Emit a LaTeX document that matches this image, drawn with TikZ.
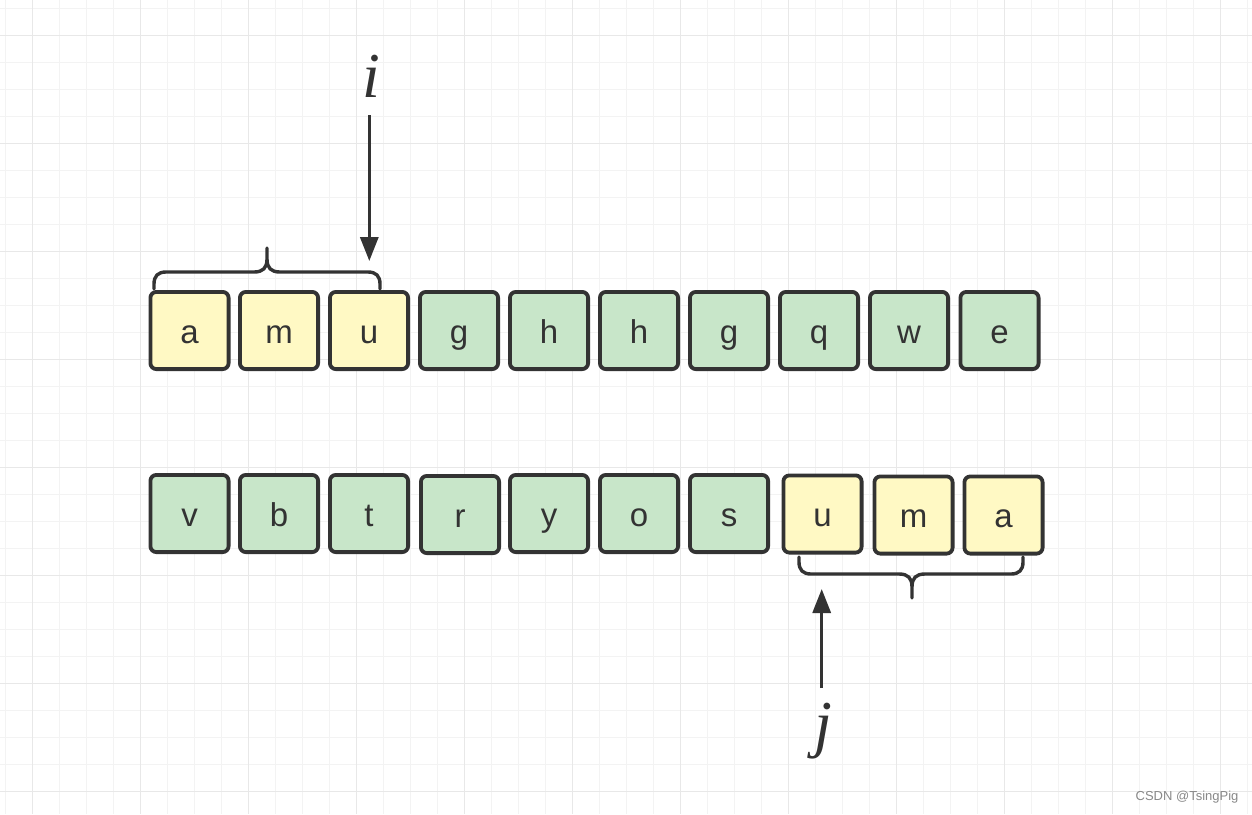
\documentclass[tikz,border=0pt]{standalone}
\usepackage{fontspec}
\setmainfont{Liberation Sans}
\newfontfamily\ptrfont{Liberation Serif}
\usetikzlibrary{arrows.meta}
\definecolor{gridminor}{HTML}{F3F3F3}
\definecolor{gridmajor}{HTML}{E8E8E8}
\definecolor{ink}{HTML}{333333}
\definecolor{yel}{HTML}{FFF9C4}
\definecolor{grn}{HTML}{C8E6C9}
\definecolor{wm}{HTML}{888888}
\begin{document}
\begin{tikzpicture}[x=1pt,y=-1pt,
  cell/.style={draw=ink, line width=3.8pt, rounded corners=6pt, minimum width=78.2pt, minimum height=77.2pt, inner sep=0pt, text=ink, font=\fontsize{33}{33}\selectfont, text height=28pt, text depth=3pt},
  ycell/.style={cell, fill=yel},
  gcell/.style={cell, fill=grn},
  brace/.style={draw=ink, line width=3.4pt, line join=round, line cap=round},
  arr/.style={draw=ink, line width=3.2pt, -{Triangle[width=18pt,length=24pt]}},
  ptr/.style={text=ink, font=\ptrfont\itshape\fontsize{64}{64}\selectfont, inner sep=0pt},
  minorline/.style={draw=gridminor, line width=1pt},
  majorline/.style={draw=gridmajor, line width=1pt}
]
\useasboundingbox (0,0) rectangle (1252,814);
\fill[white] (0,0) rectangle (1252,814);
% grid
\foreach \gi in {0,...,46}{\draw[minorline] ({5.7+27*\gi},0) -- ({5.7+27*\gi},814);}
\foreach \gi in {0,...,29}{\draw[minorline] (0,{8+27*\gi}) -- (1252,{8+27*\gi});}
\foreach \gi in {0,...,11}{\draw[majorline] ({32.7+108*\gi},0) -- ({32.7+108*\gi},814);}
\foreach \gi in {0,...,7}{\draw[majorline] (0,{35+108*\gi}) -- (1252,{35+108*\gi});}

% top row
\node[ycell] (t1) at (189.5,330.5) {a};
\node[ycell] (t2) at (279,330.5) {m};
\node[ycell] (t3) at (369,330.5) {u};
\node[gcell] (t4) at (459,330.5) {g};
\node[gcell] (t5) at (549,330.5) {h};
\node[gcell] (t6) at (639,330.5) {h};
\node[gcell] (t7) at (729,330.5) {g};
\node[gcell] (t8) at (819,330.5) {q};
\node[gcell] (t9) at (909,330.5) {w};
\node[gcell] (t10) at (999.5,330.5) {e};

% bottom row
\node[gcell] (b1) at (189.5,513.5) {v};
\node[gcell] (b2) at (279,513.5) {b};
\node[gcell] (b3) at (369,513.5) {t};
\node[gcell] (b4) at (460,514.5) {r};
\node[gcell] (b5) at (549,513.5) {y};
\node[gcell] (b6) at (639,513.5) {o};
\node[gcell] (b7) at (729,513.5) {s};
\node[ycell] (b8) at (822.5,514) {u};
\node[ycell] (b9) at (913.5,515) {m};
\node[ycell] (b10) at (1003.5,515) {a};

% braces
\draw[brace] (154,289) -- (154,284) .. controls (154,276) and (158,272) .. (166,272) -- (254,272) .. controls (263,272) and (267,268) .. (267,259) -- (267,248) -- (267,259) .. controls (267,268) and (271,272) .. (280,272) -- (368,272) .. controls (376,272) and (380,276) .. (380,284) -- (380,289);
\draw[brace] (799,557) -- (799,562) .. controls (799,570) and (803,574) .. (811,574) -- (899,574) .. controls (908,574) and (912,578) .. (912,587) -- (912,598) -- (912,587) .. controls (912,578) and (916,574) .. (925,574) -- (1011,574) .. controls (1019,574) and (1023,570) .. (1023,562) -- (1023,557);

% pointers
\node[ptr, anchor=base] (ilab) at (371,97) {i};
\node[ptr, anchor=base] (jlab) at (823,745) {j};
\coordinate (ia) at (369.3,115);
\coordinate (ib) at (369.3,261);
\coordinate (ja) at (821.7,688);
\coordinate (jb) at (821.7,589);
\draw[arr] (ia) -- (ib);
\draw[arr] (ja) -- (jb);

% watermark
\node[text=wm, font=\fontsize{13}{13}\selectfont, inner sep=0pt] (wmk) at (1187,797) {CSDN @TsingPig};
\end{tikzpicture}
\end{document}
